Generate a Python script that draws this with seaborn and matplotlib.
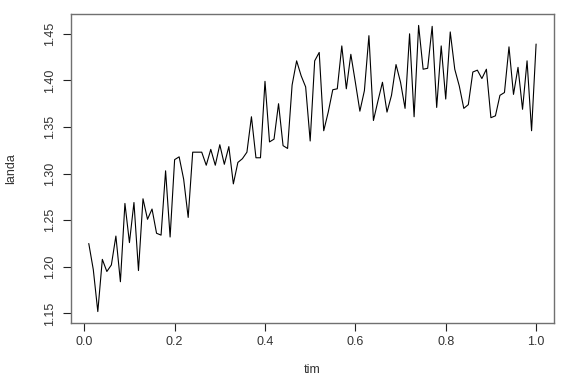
import numpy as np
import pandas as pd
import matplotlib
matplotlib.use("Agg")
import matplotlib.pyplot as plt
import seaborn as sns

# time points (0.01 .. 1.00) and the values
tim = [round(0.01 * i, 2) for i in range(1, 101)]
landa = [
    1.225, 1.197, 1.152, 1.208, 1.195, 1.202, 1.233, 1.184, 1.268, 1.226,
    1.269, 1.196, 1.273, 1.251, 1.262, 1.236, 1.234, 1.303, 1.232, 1.315,
    1.318, 1.294, 1.253, 1.323, 1.323, 1.323, 1.309, 1.326, 1.309, 1.331,
    1.310, 1.329, 1.289, 1.312, 1.316, 1.323, 1.361, 1.317, 1.317, 1.399,
    1.334, 1.337, 1.375, 1.330, 1.327, 1.395, 1.421, 1.405, 1.393, 1.335,
    1.421, 1.430, 1.346, 1.366, 1.390, 1.391, 1.437, 1.391, 1.428, 1.398,
    1.367, 1.389, 1.448, 1.357, 1.378, 1.398, 1.366, 1.384, 1.417, 1.398,
    1.370, 1.450, 1.361, 1.459, 1.412, 1.413, 1.458, 1.371, 1.437, 1.380,
    1.452, 1.412, 1.394, 1.370, 1.374, 1.409, 1.411, 1.402, 1.412, 1.360,
    1.362, 1.384, 1.387, 1.436, 1.385, 1.414, 1.369, 1.421, 1.346, 1.439,
]
x_ticks = [0.0, 0.2, 0.4, 0.6, 0.8, 1.0]
y_ticks = [1.15, 1.20, 1.25, 1.30, 1.35, 1.40, 1.45]

df = pd.DataFrame({"tim": tim, "landa": landa})

sns.set_style("white")
plt.rcParams["font.family"] = ["Liberation Sans", "DejaVu Sans"]

fig = plt.figure(figsize=(5.81, 3.88), dpi=100)
ax = fig.add_axes([0.122, 0.1675, 0.8315, 0.7965])

sns.lineplot(data=df, x="tim", y="landa", color="black", linewidth=0.8, ax=ax)

# R-like 4% padding around the data range
ax.margins(x=0.04, y=0.04)
ax.set_xticks(x_ticks)
ax.set_xticklabels([f"{v:.1f}" for v in x_ticks])
ax.set_yticks(y_ticks)
ax.set_yticklabels([f"{v:.2f}" for v in y_ticks], rotation=90, va="center")

for s in ax.spines.values():
    s.set_color("#707070")
    s.set_linewidth(1.0)

ax.tick_params(axis="both", direction="out", length=6, width=0.8,
               color="#222222", labelsize=9, labelcolor="#333333",
               bottom=True, left=True)
ax.tick_params(axis="x", pad=3)
ax.tick_params(axis="y", pad=5)

ax.set_xlabel("tim", fontsize=9, color="#333333", labelpad=12)
ax.set_ylabel("landa", fontsize=9, color="#333333", labelpad=19)

fig.savefig("out.png", dpi=100)
